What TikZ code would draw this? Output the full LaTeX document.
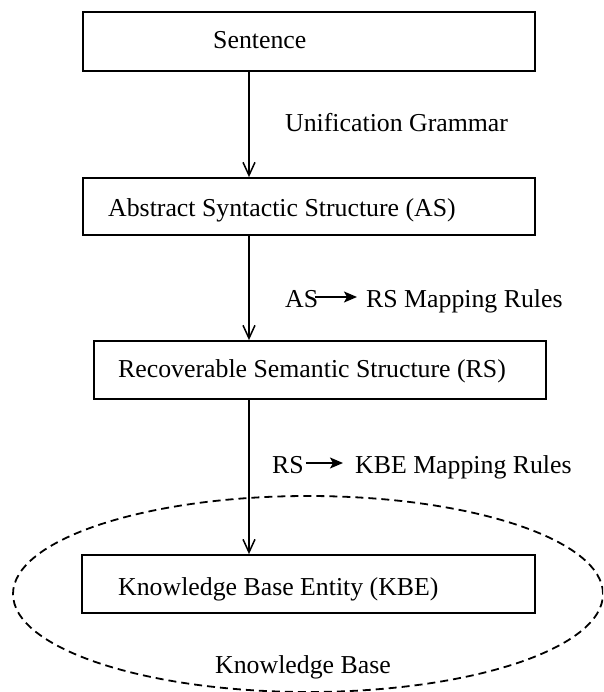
\documentclass[tikz,border=0pt]{standalone}
\usepackage{fontspec}
\setmainfont{Liberation Serif}
\usetikzlibrary{arrows.meta,shapes.geometric}

\begin{document}
\begin{tikzpicture}[
  x=1pt, y=-1pt,
  font=\fontsize{25.8}{31}\selectfont,
  stage/.style={draw, line width=1.8pt, inner sep=0pt, minimum width=452pt, minimum height=58pt},
  txt/.style={inner sep=0pt, anchor=base west},
  flow/.style={line width=1.7pt, -{Straight Barb[length=13pt,width=12pt,line width=1.5pt]}},
  maparrow/.style={line width=1.5pt, -{Stealth[length=13pt,width=11pt,inset=3pt]}},
  kbregion/.style={draw, ellipse, dashed, line width=1.8pt, dash pattern=on 8pt off 5pt,
                   inner sep=0pt, minimum width=590pt, minimum height=196pt}
]
\useasboundingbox (0,0) rectangle (603,692);
\clip (0,0) rectangle (603,692);

% column along which the processing steps are linked
\coordinate (col) at (249,0);

% knowledge base region
\node[kbregion] (kb) at (308,594) {};
\node[txt] (kblabel) at (215,673) {Knowledge Base};

% processing stages
\node[stage, minimum height=59pt] (s) at (309,41.5) {};
\node[txt] (stxt) at (213,49) {Sentence};

\node[stage, minimum height=57pt] (as) at (309,206.5) {};
\node[txt] (astxt) at (108,217) {Abstract Syntactic Structure (AS)};

\node[stage] (rs) at (320,370) {};
\node[txt] (rstxt) at (118,377) {Recoverable Semantic Structure (RS)};

\node[stage, minimum width=453pt] (kbe) at (308.5,584) {};
\node[txt] (kbetxt) at (118,595) {Knowledge Base Entity (KBE)};

% transitions between stages
\draw[flow] (s.south -| col) -- (as.north -| col);
\draw[flow] (as.south -| col) -- (rs.north -| col);
\draw[flow] (rs.south -| col) -- (kbe.north -| col);

% transition labels
\node[txt] (ug) at (285,132) {Unification Grammar};

\node[txt] (m1a) at (285,307) {AS};
\node[txt] (m1b) at (366,307) {RS Mapping Rules};
\draw[maparrow] ([yshift=10pt,xshift=-3pt]m1a.base east) -- ([yshift=10pt,xshift=-9pt]m1b.base west);

\node[txt] (m2a) at (272,473) {RS};
\node[txt] (m2b) at (355,473) {KBE Mapping Rules};
\draw[maparrow] ([yshift=10pt,xshift=2pt]m2a.base east) -- ([yshift=10pt,xshift=-12pt]m2b.base west);
\end{tikzpicture}
\end{document}
